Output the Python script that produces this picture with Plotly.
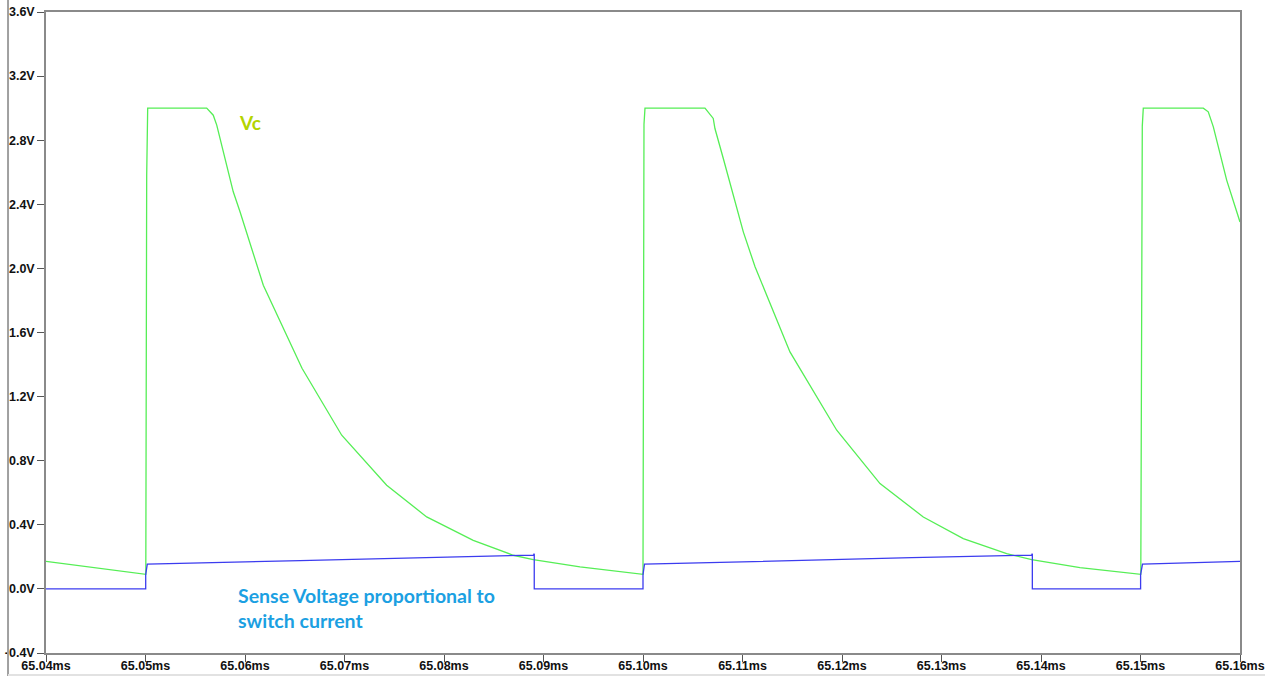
import plotly.graph_objects as go

# Time axis in milliseconds, voltages in volts
vc_t = [65.0400, 65.04543, 65.05003, 65.05012, 65.05022, 65.05615, 65.05681, 65.05716,
        65.05782, 65.05882, 65.05950, 65.06184, 65.06573, 65.06972, 65.07424, 65.07826,
        65.08294, 65.08696, 65.08897, 65.09367, 65.10000,
        65.10010, 65.10020, 65.10623, 65.10706, 65.10723, 65.10807, 65.11008, 65.11126,
        65.11477, 65.11947, 65.12382, 65.12817, 65.13219, 65.13655, 65.13906, 65.14392,
        65.15003,
        65.15018, 65.15028, 65.15631, 65.15681, 65.15732, 65.15799, 65.15866, 65.16000]
vc_v = [0.172, 0.129, 0.091, 2.58, 3.0, 3.0, 2.956, 2.894,
        2.727, 2.478, 2.353, 1.895, 1.377, 0.959, 0.647, 0.449,
        0.303, 0.210, 0.183, 0.137, 0.091,
        2.90, 3.0, 3.0, 2.936, 2.873, 2.686, 2.228, 2.010,
        1.479, 0.990, 0.657, 0.449, 0.314, 0.220, 0.183, 0.133,
        0.091,
        2.888, 3.0, 3.0, 2.977, 2.883, 2.717, 2.551, 2.290]

sense_t = [65.0400, 65.05002, 65.05002, 65.05018, 65.06553, 65.07759, 65.08900, 65.08907, 65.08907,
           65.10000, 65.10000, 65.10015, 65.11500, 65.12700, 65.13906, 65.13913, 65.13913,
           65.15001, 65.15001, 65.15020, 65.16000]
sense_v = [0.0, 0.0, 0.089, 0.154, 0.177, 0.194, 0.211, 0.220, 0.0,
           0.0, 0.089, 0.154, 0.178, 0.195, 0.211, 0.220, 0.0,
           0.0, 0.089, 0.154, 0.172]

x_ticks = [65.04, 65.05, 65.06, 65.07, 65.08, 65.09, 65.10, 65.11, 65.12, 65.13, 65.14, 65.15, 65.16]
x_tick_text = ["65.04ms", "65.05ms", "65.06ms", "65.07ms", "65.08ms", "65.09ms", "65.10ms",
               "65.11ms", "65.12ms", "65.13ms", "65.14ms", "65.15ms", "65.16ms"]
y_ticks = [-0.4, 0.0, 0.4, 0.8, 1.2, 1.6, 2.0, 2.4, 2.8, 3.2, 3.6]
y_tick_text = ["-0.4V", "0.0V", "0.4V", "0.8V", "1.2V", "1.6V", "2.0V", "2.4V", "2.8V", "3.2V", "3.6V"]

GREEN = "#55ee55"
BLUE = "#3c3cef"
AXIS = "#8a8a8a"
TICK_FONT = dict(family="Arial, Liberation Sans, sans-serif", size=12.5,
                 color="#111111", weight="bold")

fig = go.Figure()
fig.add_trace(go.Scatter(x=vc_t, y=vc_v, mode="lines", name="Vc",
                         line=dict(color=GREEN, width=1.3), showlegend=False))
fig.add_trace(go.Scatter(x=sense_t, y=sense_v, mode="lines", name="Sense",
                         line=dict(color=BLUE, width=1.3), showlegend=False))

fig.add_annotation(x=65.0605, y=2.913, xref="x", yref="y", text="<b>Vc</b>",
                   showarrow=False, xanchor="center", yanchor="middle",
                   font=dict(family="Lato, sans-serif", size=19, color="#b3d400"))
fig.add_annotation(x=65.0591, y=0.045, xref="x", yref="y",
                   text="<b>Sense Voltage proportional to<br>switch current</b>",
                   showarrow=False, xanchor="left", yanchor="top", align="left",
                   font=dict(family="Lato, sans-serif", size=19.5, color="#1ba0e2"))

# window frame lines around the plot
fig.add_shape(type="line", xref="paper", yref="paper", x0=-0.0318, x1=-0.0318,
              y0=-0.036, y1=1.02, line=dict(color="#a0a0a0", width=2))
fig.add_shape(type="line", xref="paper", yref="paper", x0=-0.0318, x1=1.03,
              y0=-0.0345, y1=-0.0345, line=dict(color="#e2e2e2", width=2))

fig.update_xaxes(range=[65.04, 65.16], tickvals=x_ticks, ticktext=x_tick_text,
                 showgrid=False, zeroline=False, showline=True, linecolor=AXIS,
                 linewidth=1.6, mirror=True, ticks="outside", ticklen=7,
                 tickcolor="#555555", tickwidth=1, tickfont=TICK_FONT, automargin=False,
                 ticklabelstandoff=-7)
fig.update_yaxes(range=[-0.4, 3.6], tickvals=y_ticks, ticktext=y_tick_text,
                 showgrid=False, zeroline=False, showline=True, linecolor=AXIS,
                 linewidth=1.6, mirror=True, ticks="outside", ticklen=7,
                 tickcolor="#555555", tickwidth=1, tickfont=TICK_FONT, automargin=False)

fig.update_layout(width=1265, height=676, margin=dict(l=46, r=25, t=12, b=23),
                  paper_bgcolor="white", plot_bgcolor="white")

fig.write_html("out.html")
